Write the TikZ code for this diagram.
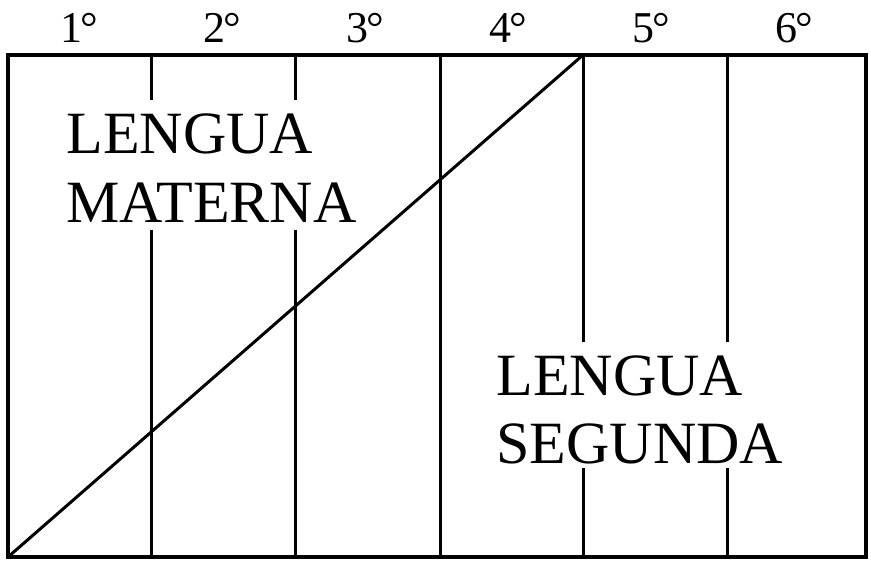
\documentclass[tikz,border=0pt]{standalone}
\usepackage{fontspec}
\setmainfont{Liberation Serif}
\usetikzlibrary{positioning}

\begin{document}
\begin{tikzpicture}[x=1pt, y=-1pt, line width=3pt,
  big/.style={inner sep=0pt, anchor=base west, font=\fontsize{60}{66}\selectfont},
  grade/.style={inner sep=0pt, anchor=base, font=\fontsize{44}{48}\selectfont}]

\useasboundingbox (0,0) rectangle (871,563);

\coordinate (bl) at (8,557);
\coordinate (tr) at (866,55);
\coordinate (top5) at (583,55);

% column lines, broken where the text sits
\foreach \x/\a/\b in {151/100/230, 295/100/230, 583/342/468, 727/342/468}
{
  \draw (\x,55) -- (\x,\a);
  \draw (\x,\b) -- (\x,557);
}
\draw (440,55) -- (440,557);

\draw[line width=4pt] (bl) rectangle (tr);

\draw (bl) -- (top5);

% grades
\foreach \n in {1,...,6}
  \node[grade] (g\n) at ({8+143*(\n-0.5)},42) {\n\kern-2pt°};

\node[big] (lm1) at (65,153) {LENGUA};
\node[big] (lm2) at (65,222) {MATERNA};

\node[big] (ls1) at (495,395) {LENGUA};
\node[big] (ls2) at (495,463) {SEGUNDA};

\end{tikzpicture}
\end{document}
